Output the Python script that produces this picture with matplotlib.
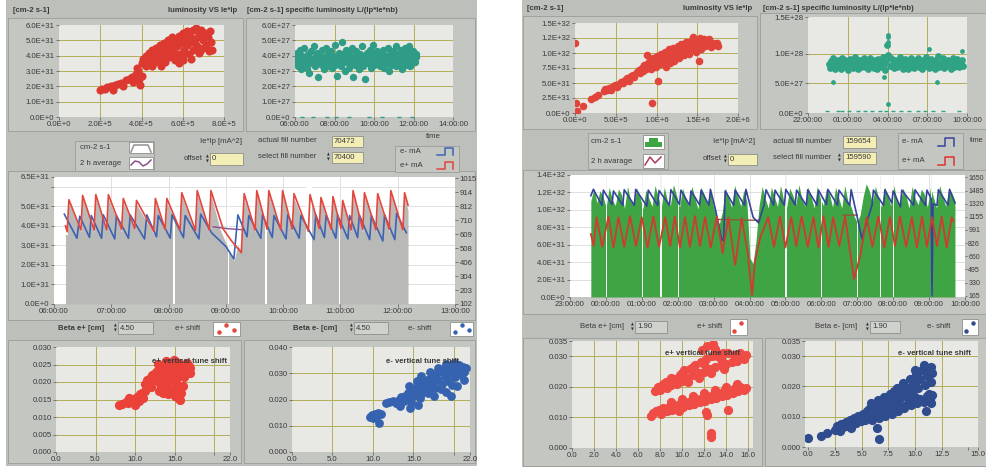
import numpy as np
import matplotlib
matplotlib.use('Agg')
import matplotlib.pyplot as plt
from matplotlib.patches import Rectangle, Polygon
from matplotlib.lines import Line2D

# ====================== DATA ======================
# ---- left run (fill 70472) ----
# luminosity [E+31 cm-2 s-1] vs Ie*Ip [E+5 mA^2]
LTL_pts = [(2.0,1.75),(2.1,1.85),(2.25,1.8),(2.35,1.95),(2.5,2.0),(2.6,1.75),(2.7,2.1),(2.85,2.15),
           (3.0,2.25),(3.1,2.05),(3.25,2.4),(3.4,2.5),(3.55,2.6),(3.6,2.3),(3.75,2.8),(3.85,3.0),
           (3.9,2.45),(3.95,2.1),(4.0,2.7),(3.8,3.2),
           (4.0,3.5),(4.05,3.8),(4.15,3.6),(4.2,4.0),(4.3,3.7),(4.35,4.2),(4.45,3.9),(4.5,3.3),(4.5,4.4),
           (4.6,4.1),(4.65,3.6),(4.7,4.5),(4.8,4.2),(4.85,3.8),(4.9,4.7),(4.95,3.3),(5.0,4.4),
           (5.05,4.0),(5.1,4.8),(5.15,3.6),(5.2,4.5),(5.3,5.0),(5.3,4.2),(5.4,3.9),(5.45,4.7),(5.5,5.2),
           (5.55,4.4),(5.6,3.7),(5.65,5.0),(5.7,4.6),(5.8,5.3),(5.8,4.1),(5.9,4.8),(5.95,3.9),(6.0,5.5),
           (6.05,4.4),(6.1,5.1),(6.2,4.7),(6.2,5.6),(6.3,4.1),(6.35,5.3),(6.4,4.9),(6.5,5.7),(6.5,4.4),
           (6.6,5.1),(6.65,5.8),(6.7,4.6),(6.8,5.4),(6.85,4.3),(6.9,5.7),(7.0,5.0),(7.0,4.5),
           (7.1,5.5),(7.15,4.7),(7.2,5.2),(7.25,4.3),(7.3,5.6),(7.35,4.9),(7.4,4.4),
           (4.4,3.5),(4.75,4.0),(5.25,4.6),(5.75,4.9),(6.25,5.0),(6.75,5.2),(5.0,3.9),(5.5,4.0),
           (6.0,4.2),(6.6,4.8),(4.2,3.3),(6.0,3.7),(6.4,3.8),(6.8,4.2),(7.3,4.4),(5.8,3.5)]
# specific luminosity [E+27] vs time [h]
LTR_spec_e27 = [3.9,3.5,4.2,3.3,3.8,4.4,3.6,3.1,4.0,3.7, 4.5,3.4,3.9,3.2,4.1,3.6,2.9,3.8,4.3,3.5,
                3.7,4.6,3.3,3.9,3.6,4.2,2.6,3.5,4.0,3.8, 3.4,4.4,3.7,3.1,3.9,4.5,3.6,3.3,4.1,3.8,
                3.5,4.3,3.2,3.9,3.7,4.7,3.4,4.0,2.7,3.6, 4.2,3.8,3.3,4.9,3.5,4.1,3.7,3.0,4.4,3.6,
                3.9,3.2,4.2,3.5,3.8,4.5,2.6,3.7,4.0,3.4, 4.3,3.6,3.9,3.1,4.1,3.8,3.5,4.6,3.3,3.9,
                2.5,3.7,4.2,3.5,4.0,3.6,4.4,3.2,3.9,4.7, 3.4,4.1,3.8,3.5,4.3,3.6,4.0,3.3,3.9,4.2,
                3.6,4.4,3.2,3.8,4.0,3.5,4.5,3.7,3.0,4.1, 3.4,3.9,4.3,3.6,3.8,4.6,3.3,4.0,3.7,4.2,
                3.5,4.4,3.1,3.9,4.1,3.6,4.5,3.4,3.8,4.2, 3.7,4.6,3.3,4.0,3.5,4.3,3.8,3.6,4.1,3.9]
LTR_span_h = (6.02, 12.15)
LTR_zero_t = [6.35, 6.9, 7.6, 8.1, 8.75, 9.75, 10.4, 11.25, 11.9]

# history: luminosity [E+31] (gray), e+ and e- currents [mA], 2 h average [E+31]
LM_lum = [(6.20,3.6),(6.23,3.5),(6.26,5.2),(6.47,3.7),(6.50,5.4),(6.70,3.7),(6.73,5.4),(6.92,3.7),
          (6.95,5.4),(7.18,3.7),(7.21,5.2),(7.41,3.8),(7.44,5.1),(7.74,3.6),(7.77,5.2),(7.94,3.7),
          (7.97,5.2),(8.20,3.7),(8.23,5.5),(8.47,3.6),(8.50,5.6),(8.71,3.7),(8.74,5.6),(8.90,3.8),
          (9.14,2.2),(9.21,3.0),(9.27,2.7),(9.32,5.4),(9.51,3.7),(9.54,5.6),(9.72,3.7),(9.75,5.6),
          (9.96,3.7),(9.99,5.6),(10.16,3.7),(10.19,5.4),(10.44,3.6),(10.47,5.4),(10.63,3.8),(10.66,5.3),
          (10.84,3.7),(10.87,5.3),(11.01,3.8),(11.04,5.1),(11.19,3.7),(11.22,5.6),(11.39,3.7),(11.42,5.5),
          (11.62,3.7),(11.65,5.4),(11.85,3.7),(11.88,5.6),(12.09,3.7),(12.12,5.5),(12.18,4.8)]
LM_gaps = [(8.07,8.12),(9.03,9.05),(9.68,9.72),(10.40,10.50),(10.98,11.00)]
LM_eplus_mA = [(6.20,670),(6.23,627),(6.26,860),(6.47,640),(6.50,891),(6.70,640),(6.73,897),(6.92,640),
               (6.95,897),(7.18,645),(7.21,869),(7.41,650),(7.44,855),(7.74,630),(7.77,869),(7.94,645),
               (7.97,869),(8.20,640),(8.23,911),(8.47,635),(8.50,926),(8.71,640),(8.74,926),(8.95,650),
               (9.10,560),(9.27,475),(9.32,904),(9.51,640),(9.54,926),(9.72,645),(9.75,926),(9.96,640),
               (9.99,926),(10.16,645),(10.19,904),(10.44,630),(10.47,897),(10.63,650),(10.66,876),(10.84,645),
               (10.87,883),(11.01,650),(11.04,855),(11.19,640),(11.22,926),(11.39,645),(11.42,911),(11.62,640),
               (11.65,904),(11.85,645),(11.88,926),(12.09,640),(12.12,911),(12.18,820)]
LM_eminus_mA = [(6.18,755),(6.40,580),(6.45,740),(6.62,585),(6.65,745),(6.83,580),(6.86,750),(7.06,575),
                (7.09,745),(7.30,580),(7.33,750),(7.58,575),(7.62,750),(7.79,590),(7.82,745),(8.03,580),
                (8.06,750),(8.26,585),(8.29,745),(8.53,575),(8.56,755),(8.75,620),(9.00,520),(9.14,429),
                (9.21,750),(9.37,590),(9.40,745),(9.61,580),(9.64,750),(9.81,585),(9.84,745),(10.05,575),
                (10.08,750),(10.28,580),(10.31,745),(10.54,570),(10.57,750),(10.72,585),(10.75,745),(10.92,580),
                (10.95,750),(11.13,575),(11.16,745),(11.30,585),(11.33,750),(11.51,570),(11.54,745),(11.74,560),
                (11.77,750),(11.95,570),(11.98,760),(12.15,620)]
LM_avg = [(8.78,3.95),(9.05,3.85),(9.30,3.8)]

# tune shifts
LBL_pts = [(8.0,0.0135),(8.4,0.0138),(8.8,0.0142),(9.1,0.0140),(9.5,0.0148),(9.8,0.0152),(10.0,0.0135),
           (10.3,0.0158),(10.6,0.0165),(10.9,0.0170),(10.5,0.0145),(11.0,0.0155),(11.3,0.0175),(9.2,0.0155),
           (11.3,0.0195),(11.5,0.0205),(11.8,0.0210),(12.0,0.0200),(12.2,0.0220),(12.4,0.0205),(12.6,0.0230),
           (12.8,0.0215),(13.0,0.0240),(13.1,0.0225),(13.3,0.0205),(13.5,0.0245),(13.6,0.0230),(13.8,0.0215),
           (14.0,0.0250),(14.1,0.0235),(14.3,0.0220),(14.5,0.0255),(14.6,0.0240),(14.8,0.0225),(15.0,0.0250),
           (15.1,0.0235),(15.3,0.0215),(15.5,0.0255),(15.6,0.0240),(15.8,0.0225),(16.0,0.0250),(16.1,0.0235),
           (16.3,0.0245),(16.5,0.0255),(16.6,0.0230),(16.8,0.0245),(17.0,0.0240),(12.0,0.0185),(13.2,0.0195),
           (14.4,0.0205),(15.2,0.0200),(16.2,0.0215),(16.9,0.0225),(13.9,0.0260),(14.9,0.0262),(12.9,0.0252),
           (13.0,0.0175),(13.5,0.0170),(13.8,0.0180),(14.2,0.0165),(14.6,0.0180),(15.0,0.0160),(15.2,0.0175),
           (15.5,0.0185),(15.8,0.0170),(16.0,0.0190),(14.0,0.0190),(15.7,0.0150),(15.4,0.0155)]
LBR_pts = [(9.6,0.0135),(9.9,0.0140),(10.2,0.0145),(10.4,0.0135),(10.6,0.0150),(10.0,0.0128),(10.7,0.0112),
           (11.0,0.0145),(11.6,0.0185),(12.0,0.0190),(12.5,0.0195),(12.8,0.0185),(13.2,0.0200),(13.5,0.0210),
           (13.8,0.0195),(14.0,0.0215),(14.3,0.0225),(14.5,0.0205),(14.8,0.0235),(15.0,0.0215),(15.2,0.0245),
           (15.5,0.0230),(15.7,0.0255),(15.9,0.0240),(16.0,0.0220),(16.3,0.0265),(16.5,0.0250),(16.7,0.0275),
           (16.9,0.0235),(17.1,0.0280),(17.3,0.0262),(17.5,0.0290),(17.7,0.0245),(17.9,0.0300),(18.1,0.0275),
           (18.3,0.0310),(18.5,0.0260),(18.7,0.0315),(18.9,0.0290),(19.1,0.0320),(19.3,0.0270),(19.5,0.0325),
           (19.7,0.0300),(19.9,0.0330),(20.1,0.0285),(20.3,0.0335),(20.5,0.0310),(20.7,0.0330),(20.9,0.0295),
           (21.1,0.0325),(21.3,0.0305),(21.5,0.0320),(16.0,0.0290),(17.0,0.0305),(18.0,0.0320),(19.0,0.0335),
           (20.0,0.0340),(14.5,0.0250),(15.5,0.0270),(16.8,0.0225),(18.4,0.0240),(19.8,0.0255),(21.2,0.0275),
           (13.0,0.0185),(14.7,0.0190),(15.8,0.0205),(17.6,0.0215),(19.0,0.0230),(20.4,0.0250),(13.4,0.0175),
           (14.6,0.0168),(15.6,0.0180),(19.6,0.0215)]

# ---- right run (fill 159654) ----
RTL_pts = [(0.0,11.7),(0.1,1.7),(0.2,0.4),(1.0,1.2),(2.0,2.3),(2.5,2.7),(2.8,3.0),(9.4,1.7),(10.2,5.4),
           (15.2,8.7),(8.8,9.7),
           (3.5,3.6),(3.7,4.0),(3.9,3.8),(4.2,4.2),(4.4,3.9),(4.6,4.4),(4.9,4.6),(5.1,4.3),(5.4,4.9),
           (5.6,5.2),(5.9,5.0),(6.1,5.5),(6.4,5.8),(6.6,5.4),(6.9,6.1),(7.1,6.4),(7.3,6.0),(7.6,6.8),
           (7.8,7.1),(8.0,6.6),(8.2,7.5),(8.4,7.0),(8.5,8.0),(8.7,7.4),(8.9,8.4),(9.0,7.8),(9.2,8.8),
           (9.3,7.3),(9.5,8.2),(9.6,9.2),(9.8,8.6),(9.9,7.7),(10.1,9.5),(10.2,8.9),(10.4,8.1),(10.5,9.9),
           (10.7,9.3),(10.8,8.5),(11.0,10.2),(11.1,9.6),(11.2,7.6),(11.4,8.9),(11.5,10.6),(11.7,10.0),
           (11.8,9.2),(12.0,10.9),(12.1,8.6),(12.3,10.3),(12.4,9.6),(12.6,11.2),(12.7,10.7),(12.8,9.1),
           (13.0,11.5),(13.1,10.0),(13.3,11.0),(13.4,9.6),(13.6,11.8),(13.7,10.4),(13.9,11.3),(14.0,9.9),
           (14.2,12.0),(14.3,10.8),(14.5,12.6),(14.6,11.4),(14.8,10.2),(15.0,12.2),(15.1,11.0),(15.3,12.5),
           (15.4,10.6),(15.6,11.7),(15.8,12.4),(15.9,11.2),(16.1,12.0),(16.3,11.4),(16.5,12.3),(16.7,11.0),
           (16.9,11.7),(17.1,11.3),(17.4,11.6),(17.6,11.2),(10.0,8.3),(10.9,9.0),(11.9,9.8),(12.9,10.3),
           (13.8,10.9),(14.7,11.6),(15.5,11.5),(16.4,11.7),(12.5,9.4),(11.6,8.4)]
RTR_spec_e27 = [8.2,7.6,8.8,7.9,9.2,8.0,7.4,8.6,9.0,7.8, 8.4,7.5,9.3,8.1,7.7,8.9,8.3,7.3,8.7,9.1,
                7.9,8.5,7.6,9.4,8.0,8.6,7.5,8.2,9.0,7.8, 8.4,9.2,7.7,8.1,8.8,7.4,8.5,9.3,7.9,8.3,
                7.6,8.9,8.2,7.5,9.1,8.0,8.6,7.8,9.5,8.3, 7.2,8.7,11.5,9.8,8.0,9.2,7.9,8.5,7.6,9.0,
                8.3,7.7,8.8,9.4,7.9,8.2,7.5,8.6,9.1,8.0, 7.4,8.7,8.3,9.2,7.8,8.5,7.6,8.9,8.1,9.3,
                7.7,8.4,9.0,7.5,8.6,8.2,9.4,7.9,8.3,7.6, 8.8,9.1,7.8,8.4,7.5,8.9,8.2,9.6,7.7,8.5,
                8.0,9.2,7.6,8.7,8.3,7.9,9.0,8.1,7.4,8.6, 9.3,7.8,8.4,8.0,9.1,7.7,8.5,8.2,8.9,8.0]
RTR_span_h = (23.55, 33.70)
RTR_out = [(23.9,5.2),(27.7,6.0),(28.0,1.6),(28.02,12.8),(28.05,12.0),(31.7,5.2),(33.6,10.5),(31.1,10.8),(28.0,13.2)]
RTR_zero_t = [23.4,24.3,24.6,25.1,25.8,26.3,26.8,27.4,27.9,28.4,29.0,29.6,30.3,30.8,31.4,32.2,33.4]

RM_lum_e31 = [11.0,12.5,10.8,12.2,11.5,10.3,12.6,11.2,10.5,12.4, 11.8,10.2,12.7,11.0,10.6,12.5,11.6,10.1,12.3,11.3,
              10.4,12.8,11.5,10.2,12.6,11.1,10.5,12.9,11.7,10.3, 12.5,11.2,10.4,12.7,11.4,10.1,12.6,11.8,10.6,12.4,
              10.5,9.2,8.4,9.8,12.5,11.4,10.3,12.8,11.6,10.4, 12.3,10.9,4.5,3.8,6.5,10.5,12.7,11.3,10.2,12.6,
              11.5,10.4,12.8,11.1,10.3,12.5,11.7,10.6,12.9,11.2, 10.4,12.6,11.5,10.2,12.7,11.3,10.5,12.4,11.8,10.3,
              12.6,11.4,10.2,12.8,11.0,10.4,9.3,8.6,9.4,11.5, 13.0,12.2,10.8,12.7,11.4,10.3,12.6,11.7,10.5,12.8,
              11.2,10.4,12.5,11.6,10.2,12.7,11.3,10.6,12.4,11.8, 10.3,12.6,11.4,10.2,12.8,11.5,10.4,12.5,11.9,11.0]
RM_lum_span_h = (23.58, 33.72)
RM_gaps = [(24.0,24.03),(25.0,25.03),(25.51,25.56),(26.01,26.04),(29.0,29.03),(30.0,30.03),
           (31.0,31.03),(31.62,31.67),(32.0,32.03),(33.06,33.09)]
RM_eminus_mA = [(23.58,1420),(23.65,1500),(23.89,1300),(23.93,1490),(24.17,1310),(24.21,1480),(24.47,1300),
                (24.51,1495),(24.79,1300),(24.83,1500),(25.14,1290),(25.18,1490),(25.44,1300),(25.48,1485),
                (25.77,1300),(25.81,1495),(26.05,1310),(26.09,1490),(26.33,1300),(26.37,1480),(26.61,1305),
                (26.65,1490),(26.87,1300),(26.91,1500),(27.05,1250),(27.22,880),(27.28,850),(27.32,1480),
                (27.56,1300),(27.60,1490),(27.86,1300),(27.90,1500),(28.10,1150),(28.25,1080),(28.40,1300),
                (28.46,1495),(28.67,1300),(28.71,1490),(28.97,1300),(29.01,1500),(29.27,1305),(29.31,1490),
                (29.58,1300),(29.62,1495),(29.88,1300),(29.92,1490),(30.14,1310),(30.18,1500),(30.45,1300),
                (30.49,1490),(30.79,1300),(30.83,1495),(31.00,1150),(31.13,880),(31.20,1000),(31.41,1300),
                (31.45,1490),(31.73,1300),(31.77,1495),(31.96,1330),(32.00,1480),(32.20,1280),(32.24,1490),
                (32.57,1300),(32.61,1495),(32.90,1300),(32.94,1490),(33.06,1380),(33.08,160),(33.11,1320),
                (33.22,1300),(33.26,1495),(33.53,1300),(33.57,1500),(33.72,1330)]
RM_eplus_mA = [(23.58,940),(23.66,790),(23.74,1150),(23.90,780),(24.07,1160),(24.21,770),(24.35,1150),
               (24.51,780),(24.67,1165),(24.84,790),(25.00,1150),(25.16,770),(25.32,1160),(25.48,780),
               (25.65,1150),(25.79,790),(25.92,1160),(26.06,770),(26.20,1150),(26.34,780),(26.48,1165),
               (26.62,790),(26.76,1150),(26.92,770),(27.09,1160),(27.25,700),(27.41,1150),(27.60,551),
               (27.78,1140),(27.95,700),(28.07,170),(28.15,600),(28.30,900),(28.52,1150),(28.68,780),
               (28.85,1160),(29.00,770),(29.16,1150),(29.30,790),(29.45,1160),(29.62,780),(29.78,1150),
               (29.92,770),(30.06,1165),(30.20,780),(30.33,1150),(30.50,790),(30.66,1160),(30.91,376),
               (31.10,700),(31.26,1150),(31.42,780),(31.59,1160),(31.75,770),(31.91,1150),(32.05,790),
               (32.19,1160),(32.36,780),(32.52,1150),(32.66,770),(32.80,1160),(32.94,780),(33.08,1150),
               (33.22,790),(33.35,1160),(33.49,770),(33.63,1150),(33.68,1100)]
RM_avg = [(27.1,8.9),(28.25,8.8),(np.nan,np.nan),(30.6,9.4),(31.0,9.4)]

RBL_pts = [(7.5,0.0185),(7.8,0.020),(8.0,0.019),(8.3,0.021),(8.6,0.0195),(8.8,0.022),(9.0,0.0205),(9.3,0.0225),
           (9.5,0.021),(9.8,0.024),(10.0,0.022),(10.2,0.0255),(10.5,0.023),(10.7,0.026),(11.0,0.024),(11.2,0.027),
           (11.5,0.0245),(11.7,0.028),(12.0,0.025),(12.2,0.029),(12.5,0.026),(12.7,0.030),(13.0,0.0265),(13.2,0.030),
           (13.5,0.027),(13.7,0.031),(14.0,0.0275),(14.2,0.031),(14.5,0.028),(14.7,0.0305),(15.0,0.0285),(15.3,0.031),
           (15.6,0.029),(15.8,0.0305),(12.3,0.0335),(12.8,0.034),(13.0,0.0325),(11.8,0.032),(9.0,0.023),(10.0,0.0245),
           (11.0,0.0265),(12.0,0.0275),(13.5,0.029),(14.8,0.0295),(8.5,0.0215),(10.5,0.0215),(11.5,0.023),(12.6,0.0245),
           (13.8,0.026),
           (7.2,0.0105),(7.4,0.0115),(7.6,0.012),(7.9,0.0125),(8.1,0.011),(8.3,0.013),(8.6,0.012),(8.8,0.0135),
           (9.1,0.0125),(9.3,0.014),(9.6,0.013),(9.8,0.0145),(10.1,0.0135),(10.3,0.015),(10.6,0.014),(10.8,0.0155),
           (11.1,0.0145),(11.3,0.016),(11.6,0.015),(11.8,0.0165),(12.1,0.0155),(12.3,0.017),(12.6,0.016),(12.8,0.0175),
           (13.1,0.0165),(13.3,0.018),(13.6,0.017),(13.8,0.0185),(14.1,0.0175),(14.3,0.019),(14.6,0.018),(14.8,0.0195),
           (15.1,0.0185),(15.3,0.020),(15.6,0.019),(15.8,0.0195),(9.0,0.015),(10.0,0.016),(11.0,0.017),(12.0,0.018),
           (13.0,0.019),(14.0,0.020),(15.0,0.021),
           (9.7,0.0122),(12.2,0.0118),(12.3,0.0108),(14.2,0.0125),(12.6,0.0048),(12.6,0.0035)]
RBR_pts = [(0.0,0.0029),(1.2,0.0037),(1.75,0.0046),(6.6,0.0026),(6.4,0.0064),(11.05,0.012),
           (2.5,0.0055),(2.7,0.0068),(2.9,0.006),(3.1,0.0075),(3.3,0.0065),(3.5,0.0082),(3.7,0.007),(3.9,0.0088),
           (4.1,0.0075),(4.3,0.0095),(4.5,0.008),(4.7,0.0102),(4.9,0.0085),(5.1,0.011),(5.3,0.009),(5.5,0.0118),
           (3.0,0.0052),(4.0,0.0062),(5.0,0.0098),(5.4,0.0105),
           (5.7,0.0125),(5.9,0.0145),(6.1,0.0115),(6.3,0.0135),(6.5,0.0155),(6.7,0.012),(6.9,0.014),(7.1,0.0165),
           (7.3,0.013),(7.5,0.015),(7.7,0.0175),(7.9,0.0145),(8.1,0.0165),(8.3,0.0195),(8.5,0.0155),(8.7,0.018),
           (8.9,0.021),(9.1,0.017),(9.3,0.0195),(9.5,0.0225),(9.7,0.018),(9.9,0.021),(10.1,0.024),(10.3,0.0195),
           (10.5,0.0225),(10.7,0.0255),(10.9,0.0205),(11.1,0.0235),(11.3,0.026),(11.5,0.0215),(11.6,0.0245),
           (10.0,0.0255),(10.8,0.027),(11.2,0.025),(9.0,0.0195),(8.0,0.0185),(7.0,0.0155),(6.0,0.0135),(11.5,0.0265),
           (6.0,0.009),(6.3,0.0098),(6.6,0.0095),(6.9,0.0105),(7.2,0.0102),(7.5,0.0115),(7.8,0.011),(8.1,0.0125),
           (8.4,0.012),(8.7,0.0135),(9.0,0.013),(9.3,0.0145),(9.6,0.014),(9.9,0.0155),(10.2,0.0145),(10.5,0.016),
           (10.8,0.015),(11.1,0.0168),(11.4,0.0158),(11.6,0.0172),(8.0,0.0135),(9.5,0.0155),(11.0,0.0155),
           (10.0,0.0165),(11.5,0.0145),(11.3,0.0175)]

# tick labels
LTL_xt, LTL_xl = [0, 2, 4, 6, 8], ['0.0E+0', '2.0E+5', '4.0E+5', '6.0E+5', '8.0E+5']
LTL_yt, LTL_yl = [0, 1, 2, 3, 4, 5, 6], ['0.0E+0', '1.0E+31', '2.0E+31', '3.0E+31', '4.0E+31', '5.0E+31', '6.0E+31']
LTR_xt, LTR_xl = [6, 8, 10, 12, 14], ['06:00:00', '08:00:00', '10:00:00', '12:00:00', '14:00:00']
LTR_yt, LTR_yl = [0, 1, 2, 3, 4, 5, 6], ['0.0E+0', '1.0E+27', '2.0E+27', '3.0E+27', '4.0E+27', '5.0E+27', '6.0E+27']
LM_xt = [6, 7, 8, 9, 10, 11, 12, 13]
LM_xl = ['06:00:00', '07:00:00', '08:00:00', '09:00:00', '10:00:00', '11:00:00', '12:00:00', '13:00:00']
LM_yt = [0, 1, 2, 3, 4, 5, 6, 6.5]
LM_yl = ['0.0E+0', '1.0E+31', '2.0E+31', '3.0E+31', '4.0E+31', '5.0E+31', '', '6.5E+31']
LM_rt = [102, 203, 304, 406, 508, 609, 710, 812, 914, 1015]
LBL_yt = [0, 0.005, 0.010, 0.015, 0.020, 0.025, 0.030]
LBR_yt = [0, 0.010, 0.020, 0.030, 0.040]
LB_xt, LB_xl = [0, 5, 10, 15, 20, 22], ['0.0', '5.0', '10.0', '15.0', '', '22.0']

RTL_xt, RTL_xl = [0, 5, 10, 15, 20], ['0.0E+0', '5.0E+5', '1.0E+6', '1.5E+6', '2.0E+6']
RTL_yt = [0, 2.5, 5, 7.5, 10, 12.5, 15]
RTL_yl = ['0.0E+0', '2.5E+31', '5.0E+31', '7.5E+31', '1.0E+32', '1.2E+32', '1.5E+32']
RTR_xt, RTR_xl = [22, 25, 28, 31, 34], ['22:00:00', '01:00:00', '04:00:00', '07:00:00', '10:00:00']
RTR_yt, RTR_yl = [0, 5, 10, 16.2], ['0.0E+0', '5.0E+27', '1.0E+28', '1.5E+28']
RM_xt = list(range(23, 35))
RM_xl = ['23:00:00', '00:00:00', '01:00:00', '02:00:00', '03:00:00', '04:00:00', '05:00:00', '06:00:00',
         '07:00:00', '08:00:00', '09:00:00', '10:00:00']
RM_yt = [0, 2, 4, 6, 8, 10, 12, 14]
RM_yl = ['0.0E+0', '2.0E+31', '4.0E+31', '6.0E+31', '8.0E+31', '1.0E+32', '1.2E+32', '1.4E+32']
RM_rt = [165, 330, 495, 660, 826, 991, 1155, 1320, 1485, 1650]
RBL_xt = [0, 2, 4, 6, 8, 10, 12, 14, 16]
RB_yt, RB_yl = [0, 0.010, 0.020, 0.030, 0.035], ['0.000', '0.010', '0.020', '0.030', '0.035']
RBR_xt = [0, 2.5, 5, 7.5, 10, 12.5, 15, 15.9]
RBR_xl = ['0.0', '2.5', '5.0', '7.5', '10.0', '12.5', '', '15.0']

# ====================== STYLE ======================
plt.rcParams['font.family'] = ['Liberation Sans', 'DejaVu Sans']
W, H = 986, 471
PANEL = '#bdbfba'
FRAME = '#c4c6c1'
EDGE = '#9a9c97'
PLOTBG = '#e8e8e5'
GRID = '#b4ad58'
TXT = '#3a3a3a'
YEL = '#f3eeb6'
FS = 5.6

fig = plt.figure(figsize=(W / 100, H / 100), dpi=100)
fig.patch.set_facecolor('white')


def fx(x):
    return x / W


def fy(y):
    return 1 - y / H


def rect(x0, y0, x1, y1, fc, ec='none', lw=0.6, z=-2):
    fig.patches.append(Rectangle((fx(x0), fy(y1)), (x1 - x0) / W, (y1 - y0) / H,
                                 transform=fig.transFigure, facecolor=fc, edgecolor=ec,
                                 linewidth=lw, zorder=z))


def txt(x, y, s, size=FS, ha='left', weight='normal', color=TXT):
    fig.text(fx(x), fy(y), s, ha=ha, va='center', fontsize=size, fontweight=weight, color=color)


def pline(pts, color, lw=1.0):
    fig.add_artist(Line2D([fx(p[0]) for p in pts], [fy(p[1]) for p in pts],
                          transform=fig.transFigure, color=color, linewidth=lw))


def spinner(x, y):
    fig.text(fx(x), fy(y - 2.6), '\u25b2', ha='center', va='center', fontsize=2.6, color='#333',
             family='DejaVu Sans')
    fig.text(fx(x), fy(y + 2.6), '\u25bc', ha='center', va='center', fontsize=2.6, color='#333',
             family='DejaVu Sans')


def field(x0, y0, x1, y1, s, fc=YEL):
    rect(x0, y0, x1, y1, fc, ec='#8d8f8a', lw=0.6, z=1)
    txt(x0 + 2, (y0 + y1) / 2, s)


def make_ax(box, bg, xlim, ylim, xt, xl, yt, yl, gx=(), gy=(), gcol=GRID, glw=0.7):
    x0, y0, x1, y1 = box
    ax = fig.add_axes([fx(x0), fy(y1), (x1 - x0) / W, (y1 - y0) / H])
    ax.set_facecolor(bg)
    ax.set_xlim(*xlim)
    ax.set_ylim(*ylim)
    ax.set_xticks(xt)
    ax.set_xticklabels(xl)
    ax.set_yticks(yt)
    ax.set_yticklabels(yl)
    for g in gx:
        ax.axvline(g, color=gcol, lw=glw, zorder=0.4)
    for g in gy:
        ax.axhline(g, color=gcol, lw=glw, zorder=0.4)
    for s in ax.spines.values():
        s.set_visible(False)
    ax.tick_params(labelsize=FS, length=2, width=0.5, pad=1.2, colors='#555', labelcolor=TXT)
    return ax


def sc(ax, pts, color, s=14):
    xs = [p[0] for p in pts]
    ys = [p[1] for p in pts]
    ax.scatter(xs, ys, s=s, color=color, linewidths=0, zorder=3)


def xy(pts):
    return [p[0] for p in pts], [p[1] for p in pts]


# ====================== PANELS ======================
rect(6, 0, 477, 466, PANEL, z=-3)
rect(522, 0, 986, 467, PANEL, z=-3)

# ---------------- LEFT PANEL ----------------
rect(8, 18, 243, 131, FRAME, EDGE)
rect(246, 18, 475, 131, FRAME, EDGE)
rect(8, 171, 475, 320, FRAME, EDGE)
rect(8, 340, 241, 463, FRAME, EDGE)
rect(244, 340, 475, 463, FRAME, EDGE)

txt(13, 11, '[cm-2 s-1]', weight='bold')
txt(237, 11, 'luminosity VS Ie*Ip', ha='right', weight='bold')
txt(247, 11, '[cm-2 s-1] specific luminosity L/(Ip*Ie*nb)', weight='bold')

ax = make_ax((59, 25, 224, 117), PLOTBG, (0, 8), (0, 6), LTL_xt, LTL_xl, LTL_yt, LTL_yl,
             gx=[2, 4, 6], gy=[1, 2, 3, 4, 5])
sc(ax, LTL_pts, '#dc3a31', s=34)

ax = make_ax((295, 25, 453, 117), PLOTBG, (6, 14), (0, 6), LTR_xt, LTR_xl, LTR_yt, LTR_yl,
             gx=[8, 10, 12], gy=[1, 2, 3, 4, 5])
t = np.linspace(LTR_span_h[0], LTR_span_h[1], len(LTR_spec_e27))
ax.scatter(t, LTR_spec_e27, s=28, color='#2e9c86', linewidths=0, zorder=3)
ax.scatter(LTR_zero_t, np.zeros(len(LTR_zero_t)), s=6, marker='_', color='#2e9c86', zorder=3,
           clip_on=False, linewidths=1)

# legend / controls row
rect(75, 141, 154, 171, FRAME, EDGE, z=0)
txt(80, 148, 'cm-2 s-1')
txt(80, 164, '2 h average')
rect(129, 142, 153, 153, 'white', '#8d8f8a', z=1)
pline([(131, 152), (134, 145), (148, 145), (151, 152)], '#9a9a9a', 1.2)
rect(129, 157, 153, 169, 'white', '#8d8f8a', z=1)
pline([(131, 165), (135, 161), (139, 162), (143, 166), (147, 164), (151, 160)], '#8a4f8c', 1.1)
txt(242, 142, 'Ie*Ip [mA^2]', ha='right')
txt(203, 159, 'offset', ha='right')
spinner(207, 159)
field(210, 153, 243, 165, '0')
txt(258, 141, 'actual fill number')
field(332, 136, 363, 147, '70472')
txt(258, 157, 'select fill number')
spinner(328, 157)
field(332, 152, 363, 163, '70400')
txt(433, 137, 'time', ha='center')
rect(395, 146, 459, 172, FRAME, EDGE, z=0)
txt(400, 152, 'e- mA')
pline([(437, 155), (445, 155), (445, 148), (453, 148), (453, 155)], '#3d63b3', 1.1)
txt(400, 166, 'e+ mA')
pline([(437, 169), (445, 169), (445, 162), (453, 162), (453, 169)], '#e2463c', 1.1)

# history plot
ax = make_ax((54, 177, 455, 304), 'white', (6, 13), (0, 6.5), LM_xt, LM_xl, LM_yt, LM_yl,
             gx=LM_xt[1:-1], gy=[1, 2, 3, 4, 5, 6], gcol='#dadada', glw=0.6)
lt, lv = xy(LM_lum)
ax.fill_between(lt, 0, lv, color='#b9b9b7', linewidth=0, zorder=1)
for g0, g1 in LM_gaps:
    ax.axvspan(g0, g1, color='white', linewidth=0, zorder=1.5)
at, av = xy(LM_avg)
ax.plot(at, av, color='#8a4f8c', lw=1.0, zorder=2)
ax2 = ax.twinx()
ax2.set_ylim(102, 1025)
ax2.set_yticks(LM_rt)
ax2.set_yticklabels([str(v) for v in LM_rt])
for s in ax2.spines.values():
    s.set_visible(False)
ax2.tick_params(labelsize=FS, length=2, width=0.5, pad=1.2, colors='#555', labelcolor=TXT)
bt, bv = xy(LM_eminus_mA)
ax2.plot(bt, bv, color='#3d63b3', lw=1.2, zorder=3)
rt_, rv = xy(LM_eplus_mA)
ax2.plot(rt_, rv, color='#e2463c', lw=1.2, zorder=3)

# controls row
txt(58, 328, 'Beta e+ [cm]', weight='bold')
spinner(115, 328)
field(118, 322, 153, 334, '4.50', fc='#cfd1cc')
txt(175, 328, 'e+ shift')
rect(213, 322, 240, 336, 'white', '#8d8f8a', z=1)
fig.add_artist(Line2D([fx(219), fx(226), fx(234)], [fy(332), fy(325), fy(330)], transform=fig.transFigure,
                      linestyle='none', marker='o', markersize=2.2, color='#e2463c'))
txt(293, 328, 'Beta e- [cm]', weight='bold')
spinner(351, 328)
field(354, 322, 388, 334, '4.50', fc='#cfd1cc')
txt(408, 328, 'e- shift')
rect(450, 322, 473, 336, 'white', '#8d8f8a', z=1)
fig.add_artist(Line2D([fx(455), fx(462), fx(469)], [fy(332), fy(325), fy(330)], transform=fig.transFigure,
                      linestyle='none', marker='o', markersize=2.2, color='#3663b0'))

# tune shift plots
ax = make_ax((56, 347, 230, 452), PLOTBG, (0, 22), (0, 0.030), LB_xt, LB_xl, LBL_yt,
             ['%.3f' % v for v in LBL_yt], gx=[5, 10, 15, 20], gy=LBL_yt[1:-1])
sc(ax, LBL_pts, '#ea4139', s=44)
ax.text(0.98, 0.86, 'e+ vertical tune shift', transform=ax.transAxes, ha='right', va='center',
        fontsize=FS, fontweight='bold', color=TXT, zorder=5)
ax = make_ax((292, 347, 470, 452), PLOTBG, (0, 22), (0, 0.040), LB_xt, LB_xl, LBR_yt,
             ['%.3f' % v for v in LBR_yt], gx=[5, 10, 15, 20], gy=LBR_yt[1:-1])
sc(ax, LBR_pts, '#3663b0', s=40)
ax.text(0.94, 0.86, 'e- vertical tune shift', transform=ax.transAxes, ha='right', va='center',
        fontsize=FS, fontweight='bold', color=TXT, zorder=5)

# ---------------- RIGHT PANEL ----------------
rect(523, 16, 757, 129, FRAME, EDGE)
rect(760, 13, 986, 129, FRAME, EDGE)
rect(523, 170, 986, 314, FRAME, EDGE)
rect(523, 338, 762, 466, FRAME, EDGE)
rect(765, 338, 986, 466, FRAME, EDGE)

txt(527, 9, '[cm-2 s-1]', weight='bold')
txt(752, 9, 'luminosity VS Ie*Ip', ha='right', weight='bold')
txt(763, 9, '[cm-2 s-1] specific luminosity L/(Ip*Ie*nb)', weight='bold')

ax = make_ax((575, 23, 738, 113), PLOTBG, (0, 20), (0, 15), RTL_xt, RTL_xl, RTL_yt, RTL_yl,
             gx=[5, 10, 15], gy=[2.5, 5, 7.5, 10, 12.5])
sc(ax, RTL_pts, '#e0443a', s=30)

ax = make_ax((808, 17, 967, 113), PLOTBG, (22, 34), (0, 16.2), RTR_xt, RTR_xl, RTR_yt, RTR_yl,
             gx=[25, 28, 31], gy=[5, 10])
t = np.linspace(RTR_span_h[0], RTR_span_h[1], len(RTR_spec_e27))
ax.scatter(t, RTR_spec_e27, s=24, color='#2fa384', linewidths=0, zorder=3)
ot, ov = xy(RTR_out)
ax.scatter(ot, ov, s=12, color='#2fa384', linewidths=0, zorder=3)
ax.scatter(RTR_zero_t, np.full(len(RTR_zero_t), 0.3), s=6, marker='_', color='#2fa384', zorder=3,
           linewidths=1)

# legend / controls row
rect(588, 133, 668, 169, FRAME, EDGE, z=0)
txt(591, 142, 'cm-2 s-1')
txt(591, 162, '2 h avarage')
rect(643, 135, 664, 149, 'white', '#8d8f8a', z=1)
fig.patches.append(Polygon([(fx(645), fy(147)), (fx(645), fy(142)), (fx(649), fy(142)), (fx(649), fy(138)),
                            (fx(658), fy(138)), (fx(658), fy(142)), (fx(662), fy(142)), (fx(662), fy(147))],
                           closed=True, transform=fig.transFigure, facecolor='#3fa443', edgecolor='none',
                           zorder=2))
rect(643, 154, 664, 168, 'white', '#8d8f8a', z=1)
pline([(645, 165), (650, 157), (655, 163), (661, 157)], '#b03a5a', 1.1)
txt(755, 142, 'Ie*Ip [mA^2]', ha='right')
txt(722, 159, 'offset', ha='right')
spinner(725, 159)
field(728, 154, 757, 165, '0')
txt(773, 142, 'actual fill number')
field(843, 136, 876, 148, '159654')
txt(773, 158, 'select fill number')
spinner(839, 158)
field(843, 152, 876, 164, '159590')
rect(898, 133, 963, 169, FRAME, EDGE, z=0)
txt(902, 142, 'e- mA')
pline([(938, 146), (945, 146), (945, 138), (954, 138), (954, 146)], '#35449a', 1.1)
txt(902, 161, 'e+ mA')
pline([(938, 165), (945, 165), (945, 157), (954, 157), (954, 165)], '#e0322c', 1.1)
txt(970, 141, 'time', size=5.2)

# history plot
ax = make_ax((570, 175, 965, 297), 'white', (23, 34), (0, 14), RM_xt, RM_xl, RM_yt, RM_yl,
             gx=RM_xt[1:-1], gy=RM_yt[1:-1], gcol='#dadada', glw=0.6)
t = np.linspace(RM_lum_span_h[0], RM_lum_span_h[1], len(RM_lum_e31))
ax.fill_between(t, 0, RM_lum_e31, color='#3fa443', linewidth=0, zorder=1)
for g0, g1 in RM_gaps:
    ax.axvspan(g0, g1, color='#f2f2f2', linewidth=0, zorder=1.5)
at, av = xy(RM_avg)
ax.plot(at, av, color='#8a5a3a', lw=1.0, zorder=2)
ax2 = ax.twinx()
ax2.set_ylim(150, 1680)
ax2.set_yticks(RM_rt)
ax2.set_yticklabels([str(v) for v in RM_rt])
for s in ax2.spines.values():
    s.set_visible(False)
ax2.tick_params(labelsize=5.0, length=1.5, width=0.5, pad=0.8, colors='#555', labelcolor=TXT)
bt, bv = xy(RM_eminus_mA)
ax2.plot(bt, bv, color='#35449a', lw=1.2, zorder=3)
rt_, rv = xy(RM_eplus_mA)
ax2.plot(rt_, rv, color='#cf3b2e', lw=1.3, zorder=3)

# controls row
txt(580, 327, 'Beta e+ [cm]')
spinner(632, 327)
field(635, 321, 667, 333, '1.90', fc='#cfd1cc')
txt(697, 327, 'e+ shift')
rect(730, 319, 747, 335, 'white', '#8d8f8a', z=1)
fig.add_artist(Line2D([fx(734), fx(741)], [fy(331), fy(323)], transform=fig.transFigure,
                      linestyle='none', marker='o', markersize=2.2, color='#e2463c'))
txt(815, 327, 'Beta e- [cm]')
spinner(867, 327)
field(870, 321, 900, 333, '1.90', fc='#cfd1cc')
txt(927, 327, 'e- shift')
rect(962, 319, 978, 335, 'white', '#8d8f8a', z=1)
fig.add_artist(Line2D([fx(966), fx(973)], [fy(331), fy(323)], transform=fig.transFigure,
                      linestyle='none', marker='o', markersize=2.2, color='#2f4c8e'))

# tune shift plots
ax = make_ax((572, 341, 753, 448), PLOTBG, (0, 16.45), (0, 0.035), RBL_xt, ['%.1f' % v for v in RBL_xt],
             RB_yt, RB_yl, gx=RBL_xt[1:], gy=[0.010, 0.020, 0.030])
sc(ax, RBL_pts, '#ee4c44', s=44)
ax.text(0.93, 0.88, 'e+ vertical tune shift', transform=ax.transAxes, ha='right', va='center',
        fontsize=FS, fontweight='bold', color=TXT, zorder=5)
ax = make_ax((805, 341, 978, 447), PLOTBG, (-0.3, 15.9), (0, 0.035), RBR_xt, RBR_xl,
             RB_yt, RB_yl, gx=[2.5, 5, 7.5, 10, 12.5], gy=[0.010, 0.020, 0.030])
sc(ax, RBR_pts, '#2f4c8e', s=44)
ax.text(0.96, 0.88, 'e- vertical tune shift', transform=ax.transAxes, ha='right', va='center',
        fontsize=FS, fontweight='bold', color=TXT, zorder=5)

fig.savefig('out.png', dpi=100, facecolor='white')
